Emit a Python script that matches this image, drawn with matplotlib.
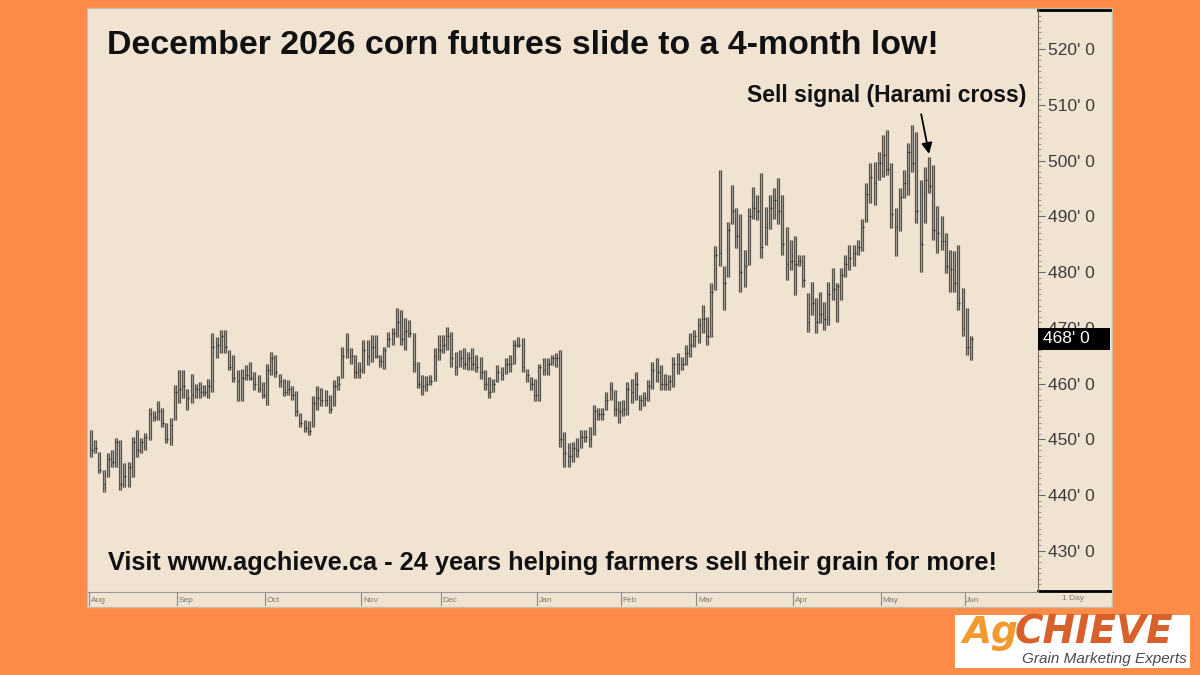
import numpy as np
import matplotlib.pyplot as plt
from matplotlib.patches import Rectangle
from matplotlib.ticker import MultipleLocator, FuncFormatter
import matplotlib.transforms as mtransforms

plt.rcParams['font.family'] = ['Liberation Sans', 'DejaVu Sans']

# daily bars, Aug -> early Jun (cents/bu)
highs = [
    451.7, 449.9, 447.8, 444.5, 447.5, 448.1, 450.2, 449.9, 445.7, 446.0,
    450.5, 451.7, 450.2, 451.1, 455.6, 455.0, 456.8, 455.6, 452.9, 453.8,
    459.7, 462.4, 462.4, 459.1, 461.8, 460.0, 460.3, 459.7, 460.9, 469.0,
    468.4, 469.6, 469.6, 466.0, 465.1, 462.4, 462.7, 463.3, 463.9, 462.1,
    461.5, 460.3, 463.6, 465.7, 465.1, 461.8, 460.9, 460.7, 459.5, 458.6,
    454.7, 453.5, 453.2, 457.7, 459.5, 459.2, 458.9, 458.0, 460.7, 461.3,
    466.6, 469.0, 466.3, 465.1, 463.9, 467.8, 467.8, 468.7, 468.7, 465.1,
    466.6, 469.3, 469.9, 473.5, 473.2, 471.7, 471.4, 469.0, 463.9, 461.6,
    461.3, 461.6, 466.3, 468.7, 468.7, 470.2, 469.3, 465.7, 466.0, 466.3,
    465.7, 466.3, 465.1, 464.8, 462.4, 461.2, 460.9, 463.3, 463.0, 464.5,
    465.1, 467.8, 468.4, 468.1, 462.7, 461.2, 460.9, 463.6, 464.5, 464.5,
    465.1, 465.4, 466.0, 451.4, 449.3, 449.6, 450.2, 451.7, 451.7, 452.3,
    456.2, 455.6, 455.6, 458.5, 460.3, 458.8, 456.8, 457.1, 460.3, 460.9,
    462.1, 458.0, 458.5, 460.6, 463.9, 464.5, 463.3, 461.8, 461.5, 464.8,
    465.4, 464.8, 466.9, 469.0, 469.6, 471.7, 474.1, 472.0, 478.0, 484.6,
    498.3, 481.0, 489.0, 495.6, 491.4, 490.5, 484.0, 491.4, 495.3, 493.8,
    497.7, 491.7, 493.8, 495.0, 496.8, 493.8, 488.1, 485.8, 486.4, 483.1,
    483.1, 476.2, 478.3, 475.3, 476.5, 474.7, 478.3, 480.7, 478.0, 480.7,
    483.1, 484.9, 484.9, 485.8, 489.6, 495.9, 499.5, 499.8, 501.6, 504.6,
    505.5, 499.5, 491.5, 495.1, 498.3, 503.1, 506.4, 505.2, 496.5, 498.9,
    500.7, 499.2, 491.8, 490.0, 487.0, 484.0, 483.7, 484.9, 477.1, 473.5,
    468.5]
lows = [
    446.9, 447.5, 443.9, 440.6, 443.3, 445.1, 445.1, 440.9, 441.5, 441.5,
    443.3, 446.9, 447.5, 448.1, 449.9, 453.2, 453.5, 452.3, 449.3, 449.0,
    453.5, 456.5, 457.4, 455.3, 456.5, 457.4, 457.4, 457.7, 457.4, 458.5,
    464.5, 465.4, 465.4, 462.4, 460.3, 456.8, 456.8, 460.6, 460.6, 458.8,
    458.5, 457.4, 456.2, 461.5, 461.2, 459.4, 457.7, 458.0, 457.1, 454.1,
    452.3, 451.4, 450.8, 452.3, 455.3, 455.9, 455.9, 454.7, 455.9, 458.9,
    461.0, 464.5, 463.6, 461.0, 461.0, 461.9, 463.3, 463.9, 464.5, 463.0,
    462.7, 466.6, 466.9, 468.4, 466.9, 466.0, 468.4, 462.1, 459.2, 458.0,
    458.6, 459.8, 460.4, 464.2, 465.4, 466.0, 463.0, 461.6, 463.0, 462.7,
    462.4, 462.4, 462.1, 460.9, 458.8, 457.4, 458.5, 460.3, 460.6, 461.8,
    462.1, 463.6, 466.6, 462.1, 460.3, 458.8, 456.8, 456.8, 461.5, 461.5,
    463.3, 463.0, 448.7, 445.1, 445.1, 446.0, 446.9, 448.4, 449.6, 448.7,
    450.8, 453.5, 453.5, 455.3, 457.1, 454.1, 452.9, 454.1, 454.4, 456.5,
    457.1, 455.3, 455.9, 456.8, 459.1, 460.3, 458.8, 458.8, 458.8, 459.4,
    461.8, 462.4, 463.3, 464.8, 466.6, 467.2, 469.0, 466.9, 468.4, 476.8,
    481.0, 473.2, 479.2, 488.7, 484.3, 476.5, 477.4, 481.3, 489.6, 489.3,
    482.5, 484.9, 487.8, 489.6, 488.7, 483.1, 478.6, 480.4, 475.9, 481.0,
    477.4, 469.3, 472.3, 469.0, 470.8, 469.6, 470.5, 475.0, 471.1, 475.0,
    479.2, 480.4, 481.0, 483.1, 483.7, 489.0, 492.4, 492.1, 496.5, 497.1,
    497.4, 487.9, 482.8, 487.3, 493.3, 493.9, 498.0, 488.8, 480.1, 488.8,
    494.2, 485.8, 483.4, 484.0, 479.8, 476.5, 476.5, 473.2, 468.5, 465.2,
    464.3]
closes = [
    448.0, 448.5, 444.5, 442.0, 446.5, 446.0, 449.5, 442.0, 443.5, 445.0,
    449.5, 448.0, 449.5, 450.5, 454.5, 454.0, 455.0, 453.0, 450.0, 452.5,
    458.5, 459.0, 459.5, 457.5, 458.0, 459.0, 458.5, 458.5, 459.5, 466.5,
    467.0, 468.5, 466.5, 463.0, 461.0, 460.5, 461.0, 461.5, 461.0, 460.0,
    459.0, 458.0, 462.5, 464.5, 462.0, 460.5, 458.5, 459.0, 458.0, 455.0,
    453.0, 452.0, 451.5, 456.5, 457.5, 457.0, 457.0, 455.5, 459.5, 460.0,
    465.0, 466.0, 465.0, 462.0, 462.5, 466.0, 465.0, 466.5, 465.0, 464.0,
    466.0, 468.0, 469.0, 471.0, 468.0, 469.5, 469.0, 463.5, 460.0, 459.5,
    460.0, 460.5, 465.0, 466.0, 467.0, 468.5, 464.5, 463.0, 464.5, 463.5,
    464.5, 463.5, 463.0, 462.0, 460.0, 458.5, 460.0, 462.0, 461.5, 463.5,
    463.5, 467.0, 467.0, 463.0, 461.5, 460.0, 458.0, 463.0, 462.5, 463.5,
    464.5, 464.5, 450.0, 447.5, 447.0, 448.5, 448.0, 450.5, 450.5, 450.0,
    455.0, 454.5, 454.5, 457.0, 459.0, 455.5, 455.0, 455.5, 459.0, 458.5,
    460.0, 457.0, 457.5, 459.5, 462.5, 462.0, 460.0, 460.0, 460.5, 463.5,
    463.5, 463.5, 465.5, 467.0, 468.5, 470.5, 471.5, 468.5, 476.5, 483.0,
    483.5, 478.0, 487.5, 491.0, 486.5, 480.0, 481.0, 490.0, 491.5, 491.0,
    484.5, 488.0, 491.5, 493.0, 491.0, 485.0, 481.5, 482.0, 481.5, 482.0,
    478.5, 471.0, 474.5, 471.0, 472.5, 471.5, 476.0, 477.0, 477.5, 479.5,
    481.5, 482.5, 483.5, 484.5, 488.0, 494.0, 497.0, 496.0, 499.5, 501.0,
    498.5, 490.5, 488.0, 493.5, 496.0, 501.5, 499.5, 491.0, 485.0, 496.5,
    495.5, 487.5, 487.0, 485.5, 481.0, 480.5, 478.0, 474.5, 470.0, 466.5,
    468.0]

months = ['Aug', 'Sep', 'Oct', 'Nov', 'Dec', 'Jan', 'Feb', 'Mar', 'Apr', 'May', 'Jun']
month_start = [0, 21, 42, 65, 84, 107, 127, 145, 168, 189, 209]  # bar index of first day
last_price = 468
signal_bar = 200

ORANGE = '#FD8C48'
BEIGE = '#F0E3D1'

fig = plt.figure(figsize=(12, 6.75), dpi=100, facecolor=ORANGE)

# chart panel (behind the axes)
fig.patches.append(Rectangle((87 / 1200, 1 - 607 / 675), 1025 / 1200, 599 / 675,
                             transform=fig.transFigure, facecolor=BEIGE,
                             edgecolor='#c8bcae', lw=1, zorder=-10))

ax = fig.add_axes([88 / 1200, 1 - 591 / 675, 950 / 1200, 581 / 675])
ax.set_facecolor(BEIGE)
x = np.arange(len(highs))
ax.vlines(x, lows, highs, color='#524e47', lw=2.3)
ax.vlines(x, lows, highs, color='#a09b92', lw=0.8)
ax.hlines(closes, x, x + 0.45, color='#3a3632', lw=1.0)
ax.set_xlim(-0.7, 226)
ax.set_ylim(422.8, 527.0)

for s in ['top', 'left', 'bottom']:
    ax.spines[s].set_visible(False)
ax.spines['right'].set_color('#6a6a6a')
ax.set_xticks([])
ax.yaxis.tick_right()
ax.yaxis.set_major_locator(MultipleLocator(10))
ax.yaxis.set_minor_locator(MultipleLocator(1))
ax.yaxis.set_major_formatter(FuncFormatter(lambda v, p: f"{int(v)}' 0"))
ax.tick_params(axis='y', which='major', length=5, color='#6a6a6a', pad=2,
               labelsize=12.5, labelcolor='#3c3c3c')
ax.tick_params(axis='y', which='minor', length=2.5, color='#8a8a8a')
fig.canvas.draw()
for lbl in ax.get_yticklabels():
    if lbl.get_text().startswith('530'):
        lbl.set_visible(False)

# right column borders
ax.plot([1.0, 1.076], [1.0, 1.0], color='black', lw=2, transform=ax.transAxes, clip_on=False)
ax.plot([1.0, 1.076], [0.0, 0.0], color='black', lw=2, transform=ax.transAxes, clip_on=False)

# last price box
trans = mtransforms.blended_transform_factory(ax.transAxes, ax.transData)
ax.add_patch(Rectangle((1.0, last_price - 1.9), 0.076, 3.8, transform=trans,
                       facecolor='black', clip_on=False, zorder=5))
ax.text(1.005, last_price, f"{last_price}' 0", transform=trans, color='white',
        fontsize=12.5, va='center', ha='left', zorder=6)

# texts
fig.text(107 / 1200, 1 - 45 / 675, 'December 2026 corn futures slide to a 4-month low!',
         fontsize=24.4, weight='bold', va='center', ha='left', color='#111111')
fig.text(108 / 1200, 1 - 563 / 675,
         'Visit www.agchieve.ca - 24 years helping farmers sell their grain for more!',
         fontsize=18.3, weight='bold', va='center', ha='left', color='#111111')
ax.annotate('Sell signal (Harami cross)', xy=(signal_bar, 501.2), xytext=(189.8, 511.6),
            fontsize=16.5, weight='bold', ha='center', va='center', color='#111111',
            arrowprops=dict(arrowstyle='-|>', color='black', lw=1.3, mutation_scale=16,
                            relpos=(0.62, 0.0), shrinkA=3, shrinkB=0))

# bottom date strip
ax2 = fig.add_axes([88 / 1200, 1 - 606 / 675, 950 / 1200, 14 / 675])
ax2.set_facecolor(BEIGE)
ax2.set_xlim(ax.get_xlim())
ax2.set_ylim(0, 1)
ax2.set_xticks([])
ax2.set_yticks([])
for s in ['left', 'right', 'bottom']:
    ax2.spines[s].set_visible(False)
ax2.spines['top'].set_color('#9a9a9a')
ax2.spines['top'].set_linestyle((0, (1, 1)))
for m, i in zip(months, month_start):
    ax2.axvline(i - 0.5, color='#8a8a8a', lw=0.8)
    ax2.text(i - 0.1, 0.4, m, fontsize=6, color='#7a7a7a', va='center', ha='left')
fig.text(1062 / 1200, 1 - 598 / 675, '1 Day', fontsize=6, color='#7a7a7a',
         va='center', ha='left')

# logo
fig.patches.append(Rectangle((955 / 1200, 1 - 668 / 675), 235 / 1200, 53 / 675,
                             transform=fig.transFigure, facecolor='white', zorder=-5))
fig.text(962 / 1200, 1 - 633 / 675, 'Ag', fontsize=27, weight='bold', style='oblique',
         family='DejaVu Sans', color='#F29A2E', va='center', ha='left')
fig.text(1015 / 1200, 1 - 633 / 675, 'CHIEVE', fontsize=28, weight='bold', style='oblique',
         family='DejaVu Sans', color='#D8602B', va='center', ha='left')
fig.text(1187 / 1200, 1 - 659 / 675, 'Grain Marketing Experts', fontsize=11,
         style='italic', color='#4a4a4a', va='center', ha='right')

fig.savefig('out.png', dpi=100, facecolor=ORANGE)
